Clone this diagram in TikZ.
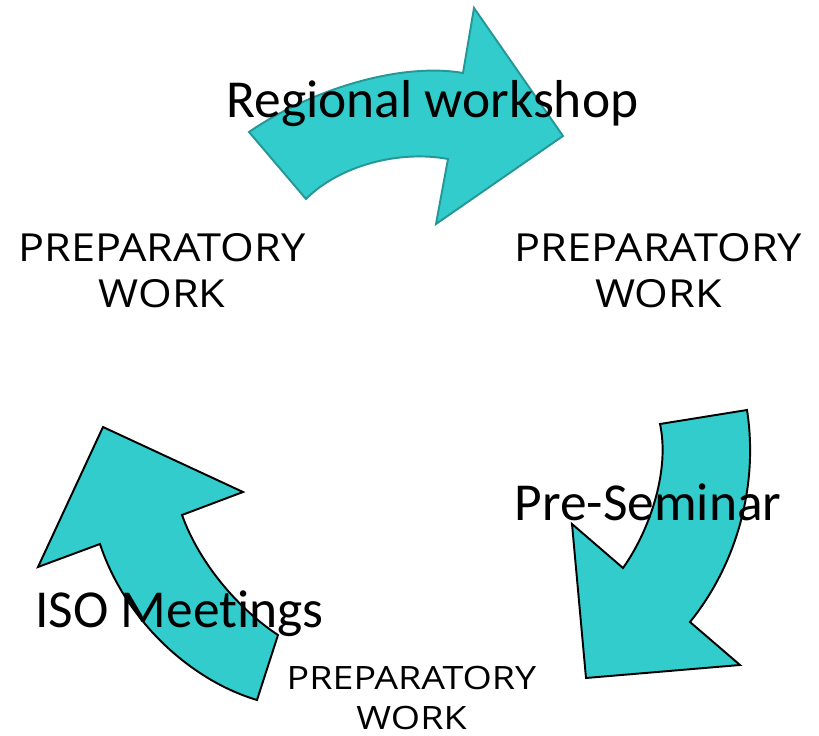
\documentclass[tikz,border=0pt]{standalone}
\usepackage{fontspec}
\usepackage{graphicx}
\setmainfont{Carlito}[Ligatures=NoCommon]
\newfontfamily\prepfont{Open Sans}
\definecolor{arrfill}{RGB}{51,204,204}
\definecolor{arredge}{RGB}{38,150,150}
\begin{document}
\begin{tikzpicture}[x=0.02cm,y=-0.02cm,
  arrowshape/.style={fill=arrfill,draw=black,line width=1.1pt,line join=miter},
  bigtext/.style={inner sep=0pt,anchor=base,font=\fontsize{30.4}{36}\selectfont},
  preptext/.style={inner sep=0pt,anchor=base}]
\useasboundingbox (0,0) rectangle (819,736);
% top arrow
\draw[arrowshape,draw=arredge] (249,132) .. controls (310,90) and (400,62) .. (463,73)
  -- (474,8) -- (563,136) -- (436,224) -- (448,159)
  .. controls (400,150) and (340,165) .. (306,199) -- cycle;
% right arrow
\draw[arrowshape] (660,424) -- (747,410)
  .. controls (758,480) and (740,560) .. (690,622)
  -- (740,665) -- (586,678) -- (572,524) -- (623,568)
  .. controls (650,530) and (670,470) .. (660,424) -- cycle;
% left arrow
\draw[arrowshape] (103,427) -- (243,492) -- (182,515)
  .. controls (200,565) and (240,610) .. (278,635)
  -- (257,700)
  .. controls (190,680) and (125,620) .. (100,544)
  -- (38,567) -- cycle;
% labels
\node[bigtext] (rw) at (432.5,118) {Regional workshop};
\node[bigtext] (ps) at (648,521) {Pre-Seminar};
\node[bigtext] (iso) at (179.5,628) {ISO Meetings};
\node[preptext] (pl) at (162,262) {\scalebox{1.12}[1]{\prepfont\fontsize{22}{26}\selectfont\def\arraystretch{1}\begin{tabular}[t]{@{}c@{}}PREPARATORY\\WORK\end{tabular}}};
\node[preptext] (pr) at (658.5,262) {\scalebox{1.12}[1]{\prepfont\fontsize{22}{26}\selectfont\def\arraystretch{1}\begin{tabular}[t]{@{}c@{}}PREPARATORY\\WORK\end{tabular}}};
\node[preptext] (pb) at (411.5,690) {\scalebox{1.17}[1]{\prepfont\fontsize{18.3}{22.7}\selectfont\def\arraystretch{1}\begin{tabular}[t]{@{}c@{}}PREPARATORY\\WORK\end{tabular}}};
\end{tikzpicture}
\end{document}
